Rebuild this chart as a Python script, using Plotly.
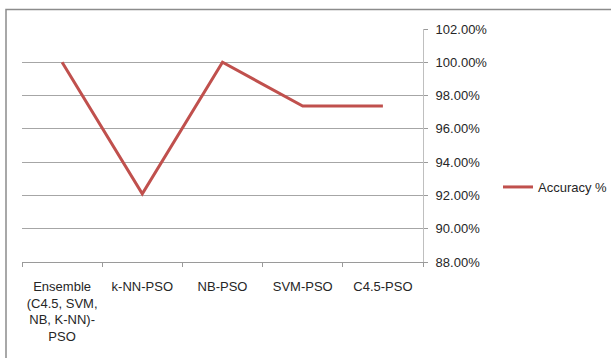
import plotly.graph_objects as go

categories = ["Ensemble<br>(C4.5, SVM,<br>NB, K-NN)-<br>PSO", "k-NN-PSO", "NB-PSO", "SVM-PSO", "C4.5-PSO"]
accuracy = [1.00, 0.921, 1.00, 0.9737, 0.9737]
series_name = "Accuracy %"
y_ticks = [0.88, 0.90, 0.92, 0.94, 0.96, 0.98, 1.00, 1.02]

FONT = "Liberation Sans, Arial, sans-serif"
FS = 13
TXT = "#262626"

fig = go.Figure()
fig.add_trace(go.Scatter(
    x=categories, y=accuracy, mode="lines", name=series_name,
    line=dict(color="#C0504D", width=3),
))

W, H = 611, 358
L, R, T, B = 22, 423, 29, 262
fig.update_layout(
    width=W, height=H,
    margin=dict(l=L, r=W - R, t=T, b=H - B, autoexpand=False),
    paper_bgcolor="white", plot_bgcolor="white",
    font=dict(family=FONT, size=FS, color=TXT),
    showlegend=True,
    legend=dict(x=(498 - L) / (R - L), y=(B - 187) / (B - T), xanchor="left", yanchor="middle",
                font=dict(family=FONT, size=FS, color=TXT),
                itemwidth=30, bgcolor="rgba(0,0,0,0)", tracegroupgap=0),
    xaxis=dict(
        type="category", showgrid=False, showline=True, linecolor="#9A9A9A", linewidth=1,
        ticks="outside", ticklen=4, tickcolor="#9A9A9A", tickson="boundaries",
        range=[-0.5, 4.5], zeroline=False, tickangle=0, automargin=False,
        ticklabelstandoff=12,
        tickfont=dict(family=FONT, size=FS, color=TXT),
    ),
    yaxis=dict(
        side="right", range=[0.88, 1.02], tickvals=y_ticks, tickformat=".2%",
        showgrid=True, gridcolor="#A6A6A6", gridwidth=1,
        showline=True, linecolor="#BFBFBF", linewidth=1,
        ticks="outside", ticklen=4, tickcolor="#9A9A9A",
        ticklabelstandoff=5, zeroline=False, automargin=False,
        tickfont=dict(family=FONT, size=FS, color=TXT),
    ),
)

# outer chart-area border (partially cropped in the reference)
pw, ph = R - L, B - T
def px_x(p): return (p - L) / pw
def px_y(p): return (B - p) / ph
fig.add_shape(type="rect", xref="paper", yref="paper",
              x0=px_x(6), x1=px_x(640), y0=px_y(9.5), y1=px_y(380),
              line=dict(color="#8C8C8C", width=1.5), layer="below")

fig.write_html("out.html")
